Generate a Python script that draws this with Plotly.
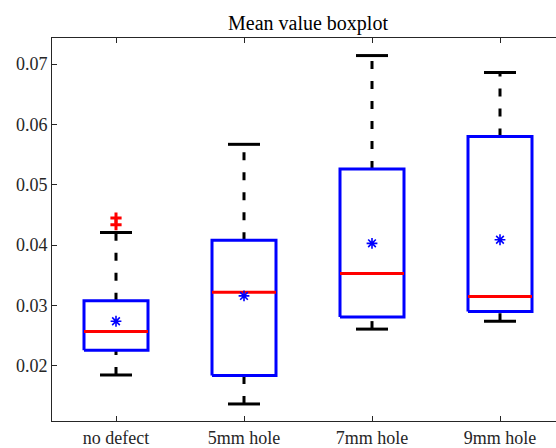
import plotly.graph_objects as go

categories = ["no defect", "5mm hole", "7mm hole", "9mm hole"]
q1 = [0.0226, 0.0184, 0.0281, 0.0290]
medians = [0.0257, 0.0322, 0.0353, 0.0315]
q3 = [0.0308, 0.0408, 0.0526, 0.0580]
lower_whisker = [0.0185, 0.0137, 0.0261, 0.0274]
upper_whisker = [0.0421, 0.0567, 0.0714, 0.0686]
means = [0.0274, 0.0316, 0.0403, 0.0409]
outliers = [[0.0445, 0.0434], [], [], []]

BOX_HALF = 0.25
CAP_HALF = 0.125
FONT = "Liberation Serif"
AXC = "#262626"

fig = go.Figure()
pos = list(range(1, len(categories) + 1))

# whiskers (dashed)
for p, lo, a, b, hi in zip(pos, lower_whisker, q1, q3, upper_whisker):
    fig.add_trace(go.Scatter(x=[p, p, None, p, p], y=[b, hi, None, lo, a], mode="lines",
                             line=dict(color="black", width=3, dash="8px,12px"),
                             showlegend=False, hoverinfo="skip"))
    fig.add_trace(go.Scatter(x=[p - CAP_HALF, p + CAP_HALF, None, p - CAP_HALF, p + CAP_HALF],
                             y=[hi, hi, None, lo, lo], mode="lines",
                             line=dict(color="black", width=3),
                             showlegend=False, hoverinfo="skip"))

# boxes
for p, a, b in zip(pos, q1, q3):
    fig.add_trace(go.Scatter(x=[p - BOX_HALF, p + BOX_HALF, p + BOX_HALF, p - BOX_HALF, p - BOX_HALF],
                             y=[a, a, b, b, a], mode="lines",
                             line=dict(color="#0000ff", width=3),
                             showlegend=False, hoverinfo="skip"))

# medians
for p, m in zip(pos, medians):
    fig.add_trace(go.Scatter(x=[p - BOX_HALF, p + BOX_HALF], y=[m, m], mode="lines",
                             line=dict(color="#ff0000", width=3),
                             showlegend=False, hoverinfo="skip"))

# means
fig.add_trace(go.Scatter(x=pos, y=means, mode="markers",
                         marker=dict(symbol="asterisk-open", size=9, color="#0000ff",
                                     line=dict(color="#0000ff", width=1.6)),
                         showlegend=False, hoverinfo="skip"))

# outliers
ox, oy = [], []
for p, outs in zip(pos, outliers):
    for v in outs:
        ox.append(p)
        oy.append(v)
fig.add_trace(go.Scatter(x=ox, y=oy, mode="markers",
                         marker=dict(symbol="cross-thin-open", size=8, color="#ff0000",
                                     line=dict(color="#ff0000", width=3)),
                         showlegend=False, hoverinfo="skip"))

fig.update_layout(
    width=556, height=448,
    margin=dict(l=52, r=0, t=38, b=27),
    paper_bgcolor="white", plot_bgcolor="white",
    font=dict(family=FONT, size=18, color=AXC),
    title=dict(text="Mean value boxplot", x=308 / 556, xanchor="center",
               y=1 - 23 / 448, yanchor="middle", font=dict(family=FONT, size=20, color="black")),
    showlegend=False,
)
fig.update_xaxes(range=[0.5, 0.5 + (556 - 52) / 128], tickvals=pos, ticktext=categories,
                 showgrid=False, zeroline=False, showline=True, linecolor=AXC, linewidth=1,
                 mirror="ticks", ticks="inside", ticklen=5, tickcolor=AXC,
                 tickfont=dict(family=FONT, size=18, color=AXC))
fig.update_yaxes(range=[0.01088, 0.07431], tickvals=[0.02, 0.03, 0.04, 0.05, 0.06, 0.07],
                 tickformat=".2f",
                 showgrid=False, zeroline=False, showline=True, linecolor=AXC, linewidth=1,
                 ticks="inside", ticklen=5, tickcolor=AXC,
                 tickfont=dict(family=FONT, size=18, color=AXC))

fig.write_html("out.html")
